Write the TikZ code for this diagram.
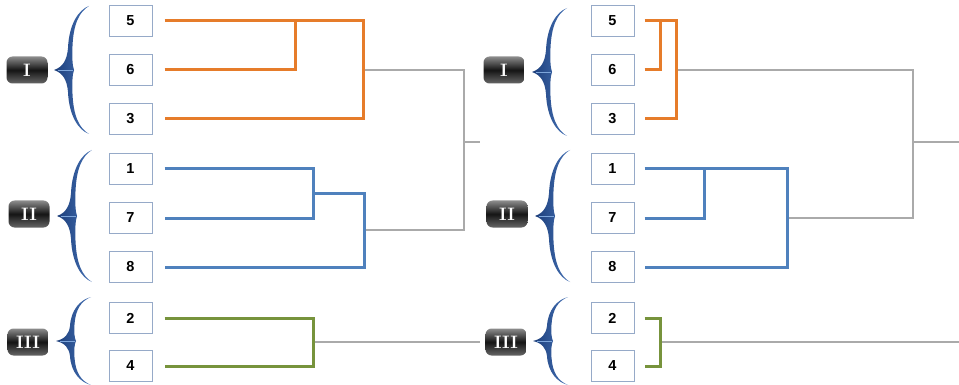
\documentclass[tikz,border=0pt]{standalone}
\usepackage{fontspec}
\setsansfont{Liberation Sans}
\usetikzlibrary{calc}

\definecolor{corange}{RGB}{230,124,42}
\definecolor{cblue}{RGB}{79,129,189}
\definecolor{cgreen}{RGB}{119,147,60}
\definecolor{cgrey}{RGB}{170,170,170}
\definecolor{boxline}{RGB}{150,170,200}
\definecolor{bracedark}{RGB}{28,62,122}
\definecolor{bracemid}{RGB}{70,114,182}
\definecolor{bracelight}{RGB}{125,165,218}

\tikzset{
  leaf/.style={draw=boxline, line width=1pt, fill=white, minimum width=43pt,
    minimum height=31pt, inner sep=0pt,
    font=\sffamily\bfseries\fontsize{14.5}{14.5}\selectfont},
  badge/.style={rounded corners=6pt, minimum width=41pt, minimum height=27pt,
    inner sep=0pt, top color=black!45, bottom color=black!60,
    middle color=black!92, text=white,
    font=\rmfamily\bfseries\fontsize{18}{18}\selectfont},
  orng/.style={draw=corange, line width=3pt},
  blu/.style={draw=cblue, line width=3pt},
  grn/.style={draw=cgreen, line width=3pt},
  gry/.style={draw=cgrey, line width=2pt},
  clusterbrace/.pic={
    \shade[left color=bracedark, right color=bracemid]
      (0,0) .. controls (9,-3) and (13,-10) .. (14,-22)
            .. controls (15,-45) and (24,-60) .. (35,-64)
            .. controls (25,-58) and (19.5,-46) .. (18.5,-24)
            .. controls (18,-12) and (18.5,-4) .. (20,0)
            .. controls (18.5,4) and (18,12) .. (18.5,24)
            .. controls (19.5,46) and (25,58) .. (35,64)
            .. controls (24,60) and (15,45) .. (14,22)
            .. controls (13,10) and (9,3) .. (0,0) -- cycle;
    \draw[bracelight, line width=0.7pt] (4,0) -- (19,0);
  }
}

\begin{document}
\begin{tikzpicture}[x=1pt, y=-1pt]
\useasboundingbox[fill=white] (0,0) rectangle (959,385);

% ---------------- left dendrogram ----------------
\node[leaf] (a5) at (130.5,21)  {5};
\node[leaf] (a6) at (130.5,70)  {6};
\node[leaf] (a3) at (130.5,119) {3};
\node[leaf] (a1) at (130.5,169) {1};
\node[leaf] (a7) at (130.5,218) {7};
\node[leaf] (a8) at (130.5,267) {8};
\node[leaf] (a2) at (130.5,318) {2};
\node[leaf] (a4) at (130.5,366) {4};

\pic[yscale=1]        at (54,70)  {clusterbrace};
\pic[yscale=66/64]    at (57,216) {clusterbrace};
\pic[yscale=44/64]    at (56,341) {clusterbrace};
\node[badge] (gIa)   at (27,70)  {I};
\node[badge] (gIIa)  at (29,214) {II};
\node[badge] (gIIIa) at (28,342) {III};

\coordinate (ljA) at (295,0);
\coordinate (ljB) at (363,0);
\coordinate (ljC) at (313,0);
\coordinate (ljD) at (364,0);
\coordinate (lroot) at (464,0);
\coordinate (lstub) at (480,142);
\coordinate (lgEnd) at (480,0);

\coordinate (lb17) at ($(a1 -| ljC)!0.5!(a7 -| ljC)$);
\coordinate (lbRoot) at ($(lb17 -| ljD)!0.5!(a8 -| ljD)$);
\coordinate (lg24) at ($(a2 -| ljC)!0.5!(a4 -| ljC)$);

% grey links first, coloured clusters on top
\draw[gry] (a6 -| ljB) -- (a6 -| lroot) -- (lbRoot -| lroot) -- (lbRoot);
\draw[gry] (lstub -| lroot) -- (lstub);
\draw[gry] (lg24) -- (lg24 -| lgEnd);

\draw[orng] ([xshift=12pt]a5.east) -- (a5 -| ljB) -- (a3 -| ljB) -- ([xshift=12pt]a3.east);
\draw[orng] ([xshift=12pt]a6.east) -- (a6 -| ljA) -- (a5 -| ljA);

\draw[blu] ([xshift=12pt]a1.east) -- (a1 -| ljC) -- (a7 -| ljC) -- ([xshift=12pt]a7.east);
\draw[blu] (lb17) -- (lb17 -| ljD) -- (a8 -| ljD) -- ([xshift=12pt]a8.east);

\draw[grn] ([xshift=12pt]a2.east) -- (a2 -| ljC) -- (a4 -| ljC) -- ([xshift=12pt]a4.east);

% ---------------- right dendrogram ----------------
\node[leaf] (b5) at (612.5,21)  {5};
\node[leaf] (b6) at (612.5,70)  {6};
\node[leaf] (b3) at (612.5,119) {3};
\node[leaf] (b1) at (612.5,169) {1};
\node[leaf] (b7) at (612.5,218) {7};
\node[leaf] (b8) at (612.5,267) {8};
\node[leaf] (b2) at (612.5,318) {2};
\node[leaf] (b4) at (612.5,366) {4};

\pic[yscale=1]        at (532,72)  {clusterbrace};
\pic[yscale=66/64]    at (535,216) {clusterbrace};
\pic[yscale=44/64]    at (533,341) {clusterbrace};
\node[badge] (gIb)   at (504,70)  {I};
\node[badge] (gIIb)  at (507,214) {II};
\node[badge] (gIIIb) at (506,342) {III};

\coordinate (rjA) at (660,0);
\coordinate (rjB) at (676,0);
\coordinate (rjC) at (704,0);
\coordinate (rjD) at (787,0);
\coordinate (rjG) at (660,0);
\coordinate (rroot) at (913,0);
\coordinate (rstub) at (959,142);
\coordinate (rgEnd) at (959,0);
\coordinate (rg24) at ($(b2 -| rjG)!0.5!(b4 -| rjG)$);

\draw[gry] (b6 -| rjB) -- (b6 -| rroot) -- (b7 -| rroot) -- (b7 -| rjD);
\draw[gry] (rstub -| rroot) -- (rstub);
\draw[gry] (rg24) -- (rg24 -| rgEnd);

\draw[orng] ([xshift=10pt]b5.east) -- (b5 -| rjB) -- (b3 -| rjB) -- ([xshift=10pt]b3.east);
\draw[orng] ([xshift=10pt]b6.east) -- (b6 -| rjA) -- (b5 -| rjA);

\draw[blu] ([xshift=10pt]b1.east) -- (b1 -| rjD) -- (b8 -| rjD) -- ([xshift=10pt]b8.east);
\draw[blu] ([xshift=10pt]b7.east) -- (b7 -| rjC) -- (b1 -| rjC);

\draw[grn] ([xshift=10pt]b2.east) -- (b2 -| rjG) -- (b4 -| rjG) -- ([xshift=10pt]b4.east);
\end{tikzpicture}
\end{document}
